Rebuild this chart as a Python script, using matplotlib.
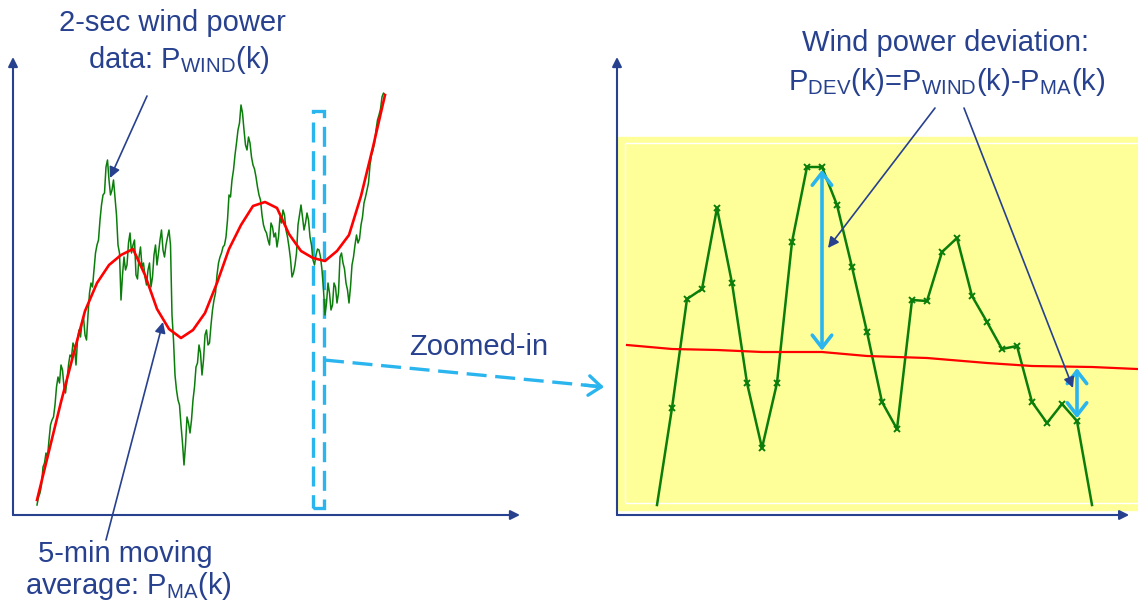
import numpy as np
import matplotlib.pyplot as plt
from matplotlib.patches import Rectangle

plt.rcParams['font.family'] = ['Liberation Sans', 'DejaVu Sans']
plt.rcParams['mathtext.default'] = 'regular'

# left panel: 2-sec wind power samples (arbitrary units)
wind_power = [10, 22, 48, 62, 75, 95, 110, 138, 150, 128,
              135, 160, 172, 150, 185, 192, 180, 200, 232, 245,
              270, 295, 320, 348, 335, 325, 318, 270, 215, 258,
              250, 282, 270, 240, 258, 248, 238, 245, 228, 260,
              250, 275, 265, 270, 285, 200, 140, 115, 90, 50,
              98, 82, 115, 148, 170, 140, 180, 170, 190, 215,
              240, 258, 268, 278, 320, 335, 360, 385, 410, 385,
              365, 372, 350, 338, 320, 300, 285, 275, 292, 278,
              268, 298, 305, 285, 268, 238, 250, 290, 310, 285,
              302, 278, 255, 260, 265, 245, 200, 232, 205, 232,
              212, 258, 252, 232, 212, 250, 270, 272, 290, 312,
              325, 350, 365, 385, 400, 418, 420]
# samples in between the ones above
wind_power_mid = [18, 30, 52, 58, 90, 98, 128, 132, 145, 122,
                  150, 158, 168, 175, 178, 198, 175, 222, 228, 262,
                  275, 310, 322, 355, 320, 335, 300, 262, 240, 245,
                  272, 262, 275, 236, 268, 252, 230, 252, 238, 270,
                  262, 285, 258, 278, 270, 175, 125, 110, 72, 70,
                  92, 95, 128, 152, 162, 155, 185, 172, 205, 222,
                  252, 262, 270, 295, 318, 345, 372, 392, 402, 370,
                  378, 358, 346, 328, 315, 290, 282, 270, 288, 282,
                  278, 292, 300, 278, 256, 242, 262, 300, 298, 292,
                  295, 270, 250, 266, 258, 225, 212, 222, 210, 228,
                  222, 262, 246, 225, 228, 258, 280, 276, 298, 318,
                  332, 360, 372, 395, 406, 422]
# 5-min moving average, one value every 4 samples
ma_power = [15, 64, 113, 159, 204, 232, 250, 260, 266, 240,
            206, 186, 177, 185, 202, 232, 266, 290, 309, 313,
            307, 281, 264, 257, 254, 264, 280, 319, 368, 420]
ma_step = 4
zoom_window = (92, 95.7)
zoom_range = (7, 404)

# right panel: zoomed-in samples
zoom_power = [10, 107, 216, 226, 307, 232, 132, 67, 132, 273,
              348, 348, 310, 248, 183, 113, 86, 215, 214, 263,
              277, 219, 193, 166, 169, 113, 92, 111, 94, 10]
zoom_ma_k = [-2, 1, 4, 7, 11, 14, 18, 22, 25, 29, 32]
zoom_ma = [170, 166, 165, 163, 163, 159, 157, 152, 149, 148, 146]
dev_marks = [11, 28]

W, H = 1138, 604
navy = '#27418f'
cyan = '#2bb5ee'
green = '#0b7d0b'
dash = (0, (6, 2.6))


def px_rect(x0, y0, x1, y1):
    return [x0 / W, 1 - y1 / H, (x1 - x0) / W, (y1 - y0) / H]


fig = plt.figure(figsize=(W / 100, H / 100), dpi=100)

axL = fig.add_axes(px_rect(13, 57, 520, 515))
axL.set_xlim(-8, 161)
axL.set_ylim(0, 458)
axL.axis('off')

n = len(wind_power)
series = np.empty(2 * n - 1)
series[0::2] = wind_power
series[1::2] = wind_power_mid
k = np.arange(2 * n - 1) / 2
axL.plot(k, series, color=green, lw=1.1)
ma_k = np.arange(len(ma_power)) * ma_step
axL.plot(ma_k, ma_power, color='red', lw=1.9)
axL.add_patch(Rectangle((zoom_window[0], zoom_range[0]), zoom_window[1] - zoom_window[0],
                        zoom_range[1] - zoom_range[0], fill=False, edgecolor=cyan,
                        lw=2.4, linestyle=dash, clip_on=False))
axL.annotate('', xy=(0, 1), xytext=(0, 0), xycoords='axes fraction',
             arrowprops=dict(arrowstyle='-|>', color=navy, lw=1.5, mutation_scale=14, shrinkA=0, shrinkB=0))
axL.annotate('', xy=(1, 0), xytext=(0, 0), xycoords='axes fraction',
             arrowprops=dict(arrowstyle='-|>', color=navy, lw=1.5, mutation_scale=14, shrinkA=0, shrinkB=0))

axR = fig.add_axes(px_rect(617, 57, 1138, 515))
axR.set_xlim(-40 / 15, 481 / 15)
axR.set_ylim(0, 458)
axR.axis('off')
axR.axhspan(5, 378, xmin=0.002, xmax=1, color='#ffff99', zorder=0)
axR.add_patch(Rectangle((0.015, 12 / 458), 1, 360 / 458, transform=axR.transAxes,
                        fill=False, edgecolor='white', lw=1, zorder=0.5, clip_on=False))

j = np.arange(len(zoom_power))
axR.plot(j, zoom_power, color=green, lw=1.8, marker='x', ms=4, mew=1.4,
         markevery=list(range(1, len(zoom_power) - 1)))
axR.plot(zoom_ma_k, zoom_ma, color='red', lw=1.6, clip_on=False)
for m in dev_marks:
    base = np.interp(m, zoom_ma_k, zoom_ma)
    axR.annotate('', xy=(m, zoom_power[m]), xytext=(m, base),
                 arrowprops=dict(arrowstyle='<->,head_length=0.45,head_width=0.35', color=cyan,
                                 lw=2.6, mutation_scale=20, shrinkA=1, shrinkB=2))
axR.annotate('', xy=(0, 1), xytext=(0, 0), xycoords='axes fraction',
             arrowprops=dict(arrowstyle='-|>', color=navy, lw=1.5, mutation_scale=14, shrinkA=0, shrinkB=0))
axR.annotate('', xy=(0.983, 0), xytext=(0, 0), xycoords='axes fraction',
             arrowprops=dict(arrowstyle='-|>', color=navy, lw=1.5, mutation_scale=14, shrinkA=0, shrinkB=0))

# overlay for labels and pointers
ov = fig.add_axes([0, 0, 1, 1])
ov.set_xlim(0, W)
ov.set_ylim(H, 0)
ov.axis('off')
ov.patch.set_alpha(0)

fs = 21
ov.text(172, 31, '2-sec wind power', fontsize=fs, color=navy, ha='center', va='baseline')
ov.text(179, 68, 'data: P$_{WIND}$(k)', fontsize=fs, color=navy, ha='center', va='baseline')
ov.text(946, 51, 'Wind power deviation:', fontsize=fs, color=navy, ha='center', va='baseline')
ov.text(947, 90, 'P$_{DEV}$(k)=P$_{WIND}$(k)-P$_{MA}$(k)', fontsize=fs, color=navy, ha='center', va='baseline')
ov.text(125, 562, '5-min moving', fontsize=fs, color=navy, ha='center', va='baseline')
ov.text(128, 594, 'average: P$_{MA}$(k)', fontsize=fs, color=navy, ha='center', va='baseline')
ov.text(479, 355, 'Zoomed-in', fontsize=fs, color=navy, ha='center', va='baseline')

pointer = dict(arrowstyle='-|>', color=navy, lw=1.2, mutation_scale=16, shrinkA=0, shrinkB=0)
ov.annotate('', xy=(110, 178), xytext=(147, 96), arrowprops=pointer)
ov.annotate('', xy=(163, 322), xytext=(106, 540), arrowprops=pointer)
ov.annotate('', xy=(828, 248), xytext=(935, 108), arrowprops=pointer)
ov.annotate('', xy=(1073, 388), xytext=(964, 108), arrowprops=pointer)

ov.plot([324, 597], [360, 386.3], color=cyan, lw=2.4, linestyle=dash)
ov.annotate('', xy=(604, 387), xytext=(585, 385.2),
            arrowprops=dict(arrowstyle='->,head_length=0.45,head_width=0.35', color=cyan,
                            lw=2.4, mutation_scale=20, shrinkA=0, shrinkB=0))

fig.savefig('out.png', dpi=100)
